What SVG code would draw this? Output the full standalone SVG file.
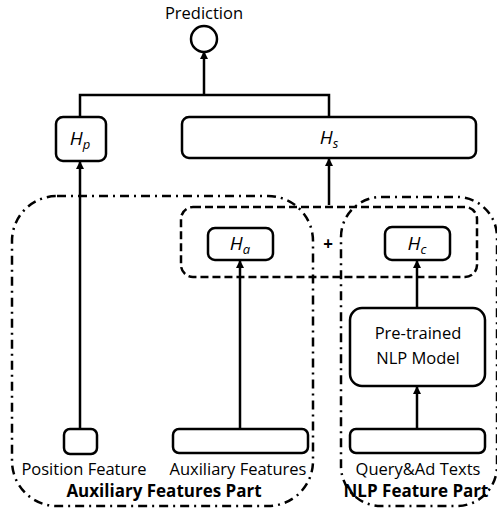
<svg xmlns="http://www.w3.org/2000/svg" width="497" height="514" viewBox="0 0 497 514">
<defs>
<marker id="ah" markerWidth="8" markerHeight="8" refX="7" refY="4" orient="auto" markerUnits="userSpaceOnUse"><path d="M0,0 L8,4 L0,8 z" fill="#000"/></marker>
<style>
.box{fill:#fff;stroke:#000;stroke-width:2.5}
.ln{fill:none;stroke:#000;stroke-width:2.5}
.arr{fill:none;stroke:#000;stroke-width:2.5;marker-end:url(#ah)}
.dd{fill:none;stroke:#000;stroke-width:2.5;stroke-dasharray:9 5 2 5}
.da{fill:none;stroke:#000;stroke-width:2.5;stroke-dasharray:8 4}
.t{font-family:"Open Sans","Liberation Sans",sans-serif;font-size:16.5px;fill:#000;text-anchor:middle}
.b{font-family:"Open Sans","Liberation Sans",sans-serif;font-size:17px;font-weight:bold;fill:#000;text-anchor:middle}
.h{font-family:"Open Sans","Liberation Sans",sans-serif;font-size:19px;font-style:italic;fill:#000;text-anchor:middle}
.s{font-size:13px}
</style>
</defs>
<g id="groups">
<rect class="dd" x="12" y="196" width="301" height="310" rx="45"/>
<rect class="dd" x="341" y="197" width="156" height="309" rx="40"/>
<rect class="da" x="181" y="207" width="296" height="70" rx="12"/>
</g>
<g id="connectors">
<path class="ln" d="M80,117 V95 H329 V117"/>
<path class="arr" d="M204,95 V52"/>
<path class="arr" d="M80,429 V162"/>
<path class="arr" d="M329,205 V159"/>
<path class="arr" d="M240,429 V261"/>
<path class="arr" d="M417,308 V261"/>
<path class="arr" d="M417,429 V387"/>
</g>
<g id="prediction">
<circle cx="204" cy="39" r="13" fill="#fff" stroke="#000" stroke-width="2.5"/>
<text class="t" x="204" y="19" font-size="17.5">Prediction</text>
</g>
<g id="Hp">
<rect class="box" x="56" y="117" width="50" height="44" rx="7"/>
<text class="h" x="80" y="145">H<tspan class="s" dy="4">p</tspan></text>
</g>
<g id="Hs">
<rect class="box" x="182" y="117" width="294" height="41" rx="7"/>
<text class="h" x="329" y="144">H<tspan class="s" dy="4">s</tspan></text>
</g>
<g id="Ha">
<rect class="box" x="208" y="228" width="65" height="32" rx="7"/>
<text class="h" x="240" y="250">H<tspan class="s" dy="4">a</tspan></text>
</g>
<g id="plus">
<text class="b" x="328" y="250" font-size="19">+</text>
</g>
<g id="Hc">
<rect class="box" x="385" y="227" width="65" height="33" rx="7"/>
<text class="h" x="417" y="250">H<tspan class="s" dy="4">c</tspan></text>
</g>
<g id="nlpmodel">
<rect class="box" x="350" y="308" width="135" height="78" rx="12"/>
<text class="t" x="418" y="339">Pre-trained</text>
<text class="t" x="418" y="364">NLP Model</text>
</g>
<g id="position">
<rect class="box" x="64" y="429" width="33" height="25" rx="6"/>
<text class="t" x="84" y="475">Position Feature</text>
</g>
<g id="auxfeat">
<rect class="box" x="173" y="429" width="135" height="24" rx="6"/>
<text class="t" x="238" y="475">Auxiliary Features</text>
</g>
<g id="query">
<rect class="box" x="350" y="429" width="135" height="24" rx="6"/>
<text class="t" x="418" y="475">Query&amp;Ad Texts</text>
</g>
<g id="labels">
<text class="b" x="164" y="497">Auxiliary Features Part</text>
<text class="b" x="416" y="497">NLP Feature Part</text>
</g>
</svg>
